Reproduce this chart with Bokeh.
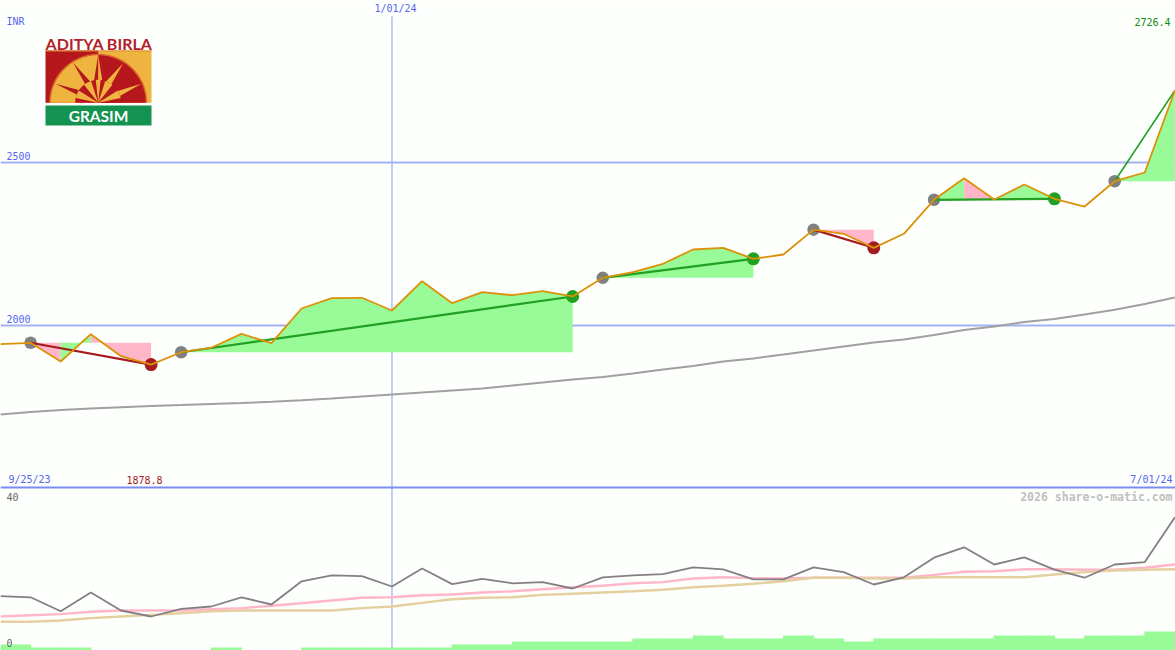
import math
from itertools import groupby
from bokeh.plotting import figure
from bokeh.models import Range1d, Label
from bokeh.embed import file_html
from bokeh.resources import INLINE

# ---------- data ----------
close = [1942.6, 1947.0, 1889.6, 1973.3, 1905.8, 1880.0, 1918.0, 1931.6, 1974.5, 1945.7,
         2052.1, 2083.7, 2085.0, 2046.0, 2135.9, 2068.4, 2102.1, 2092.9, 2105.2, 2089.0,
         2146.3, 2163.5, 2189.3, 2233.1, 2238.3, 2204.6, 2217.8, 2294.0, 2281.3, 2238.3,
         2281.3, 2385.6, 2451.8, 2386.5, 2432.5, 2388.7, 2365.0, 2442.6, 2469.3, 2721.0]
ma200 = [1727.0, 1734.7, 1741.0, 1745.5, 1749.5, 1753.1, 1756.0, 1759.0, 1762.0, 1766.0,
         1770.5, 1776.1, 1782.2, 1788.3, 1794.5, 1800.6, 1806.7, 1816.0, 1825.2, 1834.4,
         1842.0, 1852.8, 1865.0, 1875.8, 1889.6, 1898.8, 1911.0, 1923.3, 1935.6, 1947.9,
         1957.1, 1970.9, 1986.2, 1997.0, 2010.7, 2019.9, 2033.7, 2048.0, 2066.0, 2085.9]
osc = [13.6, 13.3, 9.8, 14.5, 10.0, 8.5, 10.4, 11.0, 13.3, 11.5,
       17.3, 18.8, 18.6, 16.0, 20.5, 16.6, 17.9, 16.8, 17.1, 15.5,
       18.3, 18.8, 19.1, 20.8, 20.3, 17.8, 17.8, 20.8, 19.6, 16.5,
       18.3, 23.2, 25.8, 21.5, 23.3, 20.2, 18.2, 21.5, 22.1, 33.3]
osc_fast = [8.5, 8.8, 9.1, 9.7, 10.0, 10.0, 10.0, 10.3, 10.6, 11.2,
            11.8, 12.5, 13.2, 13.3, 13.8, 14.0, 14.5, 14.8, 15.3, 15.8,
            16.2, 16.8, 17.1, 18.0, 18.3, 18.1, 18.0, 18.2, 18.2, 18.2,
            18.2, 18.9, 19.7, 19.8, 20.3, 20.3, 20.2, 20.2, 20.7, 21.5]
osc_slow = [7.2, 7.2, 7.5, 8.1, 8.5, 8.9, 9.3, 9.8, 10.0, 10.0,
            10.0, 10.0, 10.6, 11.0, 11.9, 12.8, 13.2, 13.3, 13.9, 14.2,
            14.5, 14.8, 15.2, 15.8, 16.2, 16.7, 17.3, 18.2, 18.2, 18.0,
            18.0, 18.3, 18.3, 18.3, 18.3, 19.0, 19.6, 20.0, 20.2, 20.3]
volume = [1.5, 0.75, 0.75, 0, 0, 0, 0, 0.75, 0, 0,
          0.75, 0.75, 0.75, 0.75, 0.75, 1.5, 1.5, 2.25, 2.25, 2.25,
          2.25, 3, 3, 3.75, 3, 3, 3.75, 3, 2.25, 3,
          3, 3, 3, 3.75, 3.75, 3, 3.75, 3.75, 4.75]
signal_start = [1, 6, 20, 27, 31, 37]
signal_end = [5, 19, 25, 29, 35, 39]
signal_up = [False, True, True, False, True, True]
signal_end_dot = [True, True, True, True, True, False]
signal_width = [2.2, 2.2, 2.2, 2.2, 2.2, 1.6]
signal_segments = ["pgpp", "g" * 13, "g" * 5, "pp", "gpgg", "gg"]
grid_levels = [2500, 2000]
date_week = 13

GREEN_FILL, PINK_FILL = "#98fb98", "#ffb6c8"
BLUE_LINE, FRAME, BLUE_TEXT = "#a3b2f5", "#7b8cf0", "#5566f2"
DARK_GREEN, DARK_RED = "#22a022", "#a31a1f"
BG = "#fdfffc"

# ---------- figure ----------
PX = 0.326
p = figure(width=1175, height=650, output_backend="svg", toolbar_location=None,
           x_axis_type=None, y_axis_type=None, min_border=0,
           x_range=Range1d(0, 39.02),
           y_range=Range1d(2000 - 325 / PX, 2000 + 325 / PX),
           background_fill_color=BG, border_fill_color=BG, outline_line_color=None)
p.grid.visible = False
p.extra_y_ranges = {"osc": Range1d(0, 162.5), "py": Range1d(650, 0)}
p.extra_x_ranges = {"px": Range1d(0, 1175)}
weeks = list(range(len(close)))

# grid
for lv in grid_levels:
    p.line([0, 39.02], [lv, lv], line_color=BLUE_LINE, line_width=2)
p.line([date_week, date_week], [16, 650], y_range_name="py", line_color=BLUE_LINE, line_width=1.3)
p.line([0, 39.02], [40.75, 40.75], y_range_name="osc", line_color=FRAME, line_width=2)

# signal fills: one area for each run of the same colour, so no seams appear
for s, segs in zip(signal_start, signal_segments):
    base = close[s]
    pos = s
    for c, run in groupby(segs):
        n = len(list(run))
        xs = list(range(pos, pos + n + 1))
        p.varea(x=xs, y1=[close[i] for i in xs], y2=[base] * len(xs),
                fill_color=GREEN_FILL if c == "g" else PINK_FILL)
        pos += n

p.line(weeks, ma200, line_color="#a0a0a0", line_width=2)

# signal markers and trend lines
p.scatter(signal_start, [close[s] for s in signal_start],
          size=12.5, fill_color="#808080", line_color=None)
for s, e, up, dot, w in zip(signal_start, signal_end, signal_up, signal_end_dot, signal_width):
    col = DARK_GREEN if up else DARK_RED
    if dot:
        p.scatter([e], [close[e]], size=13, fill_color=col, line_color=None)
    p.line([s, e], [close[s], close[e]], line_color=col, line_width=w)

p.line(weeks, close, line_color="#dc9208", line_width=1.8)

# lower panel
p.vbar(x=[i + 0.5 for i in range(len(volume))], width=1.03, bottom=0, top=volume,
       y_range_name="osc", fill_color=GREEN_FILL, line_color=None)
p.line(weeks, osc_fast, y_range_name="osc", line_color="#ffb6c8", line_width=2.4)
p.line(weeks, osc_slow, y_range_name="osc", line_color="#e4cf9f", line_width=2.4)
p.line(weeks, osc, y_range_name="osc", line_color="#857f85", line_width=1.8)

# logo
def arc(cx, cy, r, a0, a1, n=30):
    return ([cx + r * math.cos(math.radians(a0 + (a1 - a0) * i / n)) for i in range(n + 1)],
            [cy - r * math.sin(math.radians(a0 + (a1 - a0) * i / n)) for i in range(n + 1)])

def poly(xs, ys, col):
    p.patch(xs, ys, x_range_name="px", y_range_name="py", fill_color=col, line_color=None)

RED, GOLD = "#b5171d", "#efb440"
cx, cy = 97.7, 102.3
poly([45, 98, 98, 45], [50, 50, 102.3, 102.3], RED)
poly([98, 151, 151, 98], [50, 50, 102.3, 102.3], GOLD)
poly([45, 151, 151, 45], [50, 50, 51, 51], "#df8a2a")
ax, ay = arc(cx, cy, 49, 90, 180)
poly(ax + [cx], ay + [cy], "#d9662a")
ax, ay = arc(cx, cy, 47.5, 90, 180)
poly(ax + [cx], ay + [cy], GOLD)
ax, ay = arc(cx, cy, 49, 0, 90)
poly(ax + [cx], ay + [cy], "#d9662a")
ax, ay = arc(cx, cy, 47.5, 0, 90)
poly(ax + [cx], ay + [cy], RED)
poly([72.7, 88.3, 93.3], [62.3, 90, 85], RED)
poly([55, 80, 81.7], [83.3, 90, 96.7], RED)
poly([122.7, 101.7, 107.3], [62.7, 85, 90], GOLD)
poly([140.7, 113.3, 117.3], [83.3, 91.7, 96.7], GOLD)
poly([97.7, 93.3, 97.7], [54.3, 81.7, 81.7], RED)
poly([97.7, 102, 97.7], [54.3, 81.7, 81.7], GOLD)
ax, ay = arc(cx, cy, 23, 0, 180)
poly(ax, ay, RED)
for a0, a1 in [(12, 32), (52, 72), (84, 96), (108, 128), (148, 168)]:
    ax, ay = arc(cx, cy, 23, a0, a1, 6)
    poly(ax + [cx], ay + [cy], GOLD)
poly([45, 151, 151, 45], [105, 105, 125, 125], "#14924f")

def label(txt, x, y, col, align="left", size=10, font="DejaVu Sans Mono", style="normal"):
    p.add_layout(Label(x=x, y=650 - y, x_units="screen", y_units="screen", text=txt,
                       text_color=col, text_align=align, text_baseline="middle",
                       text_font=font, text_font_size=f"{size}px", text_font_style=style))

label("ADITYA BIRLA", 98.5, 42.5, "#b3202a", "center", 16, "Lato", "bold")
label("GRASIM", 98, 115.5, "#ffffff", "center", 15.5, "Lato", "bold")

label("INR", 6, 21, BLUE_TEXT)
label("1/01/24", 395, 8, BLUE_TEXT, "center")
label("2726.4", 1170, 21, "#118a11", "right")
for lv in grid_levels:
    label(str(lv), 6, 325 - (lv - 2000) * PX - 7, BLUE_TEXT)
label("9/25/23", 8, 479, BLUE_TEXT)
label("1878.8", 126, 479, DARK_RED)
label("7/01/24", 1172, 479, BLUE_TEXT, "right")
label("40", 6, 496, "#666666")
label("0", 6, 642, "#666666")
label("2026 share-o-matic.com", 1172, 496, "#c0c0c0", "right", 11.5, "DejaVu Sans Mono", "bold")

open("out.html", "w").write(file_html(p, INLINE))
